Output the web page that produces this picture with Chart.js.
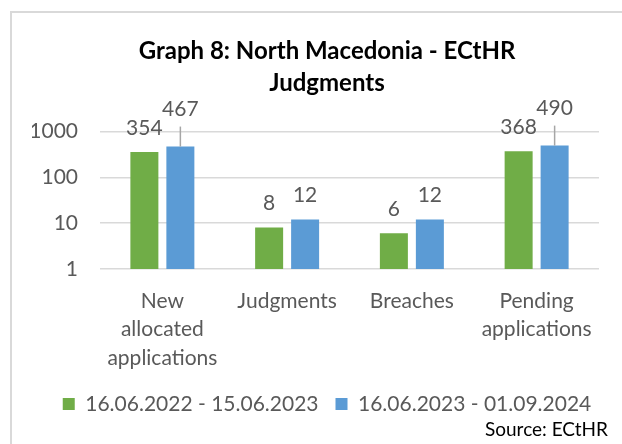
<!DOCTYPE html>
<html>
<head>
<meta charset="utf-8">
<script src="https://cdn.jsdelivr.net/npm/chart.js@4"></script>
<style>
  html, body { margin: 0; padding: 0; background: #fff; overflow: hidden; }
  #frame {
    position: absolute; left: 10px; top: 11px; width: 660px; height: 470px;
    border: 2px solid #d9d9d9; box-sizing: border-box;
  }
  #wrap { position: absolute; left: 0; top: 0; width: 622px; height: 444px; }
</style>
</head>
<body>
<div id="frame"></div>
<div id="wrap"><canvas id="myChart" width="622" height="444"></canvas></div>
<script>
// chart data
const categories = [["New", "allocated", "applications"], "Judgments", "Breaches", ["Pending", "applications"]];
const period1 = "16.06.2022 - 15.06.2023";
const period2 = "16.06.2023 - 01.09.2024";
const values1 = [354, 8, 6, 368];
const values2 = [467, 12, 12, 490];
const yTicks = [1, 10, 100, 1000];

const FONT = "Lato";
const GREY = "#595959";

// value labels above the bars, with a leader line when two labels collide
const barLabels = {
  id: "barLabels",
  afterDatasetsDraw(chart) {
    const ctx = chart.ctx;
    ctx.save();
    ctx.font = "21px " + FONT;
    ctx.fillStyle = GREY;
    ctx.textAlign = "center";
    ctx.textBaseline = "middle";

    const m0 = chart.getDatasetMeta(0);
    const m1 = chart.getDatasetMeta(1);

    m0.data.forEach((bar, i) => {
      const v0 = chart.data.datasets[0].data[i];
      const v1 = chart.data.datasets[1].data[i];
      const b1 = m1.data[i];

      const y0 = bar.y - 24;
      let y1 = b1.y - 24;
      const w0 = ctx.measureText(String(v0)).width;
      const w1 = ctx.measureText(String(v1)).width;

      ctx.fillText(String(v0), bar.x, y0);

      const overlapX = Math.abs(b1.x - bar.x) < (w0 + w1) / 2 + 1;
      const overlapY = Math.abs(y1 - y0) < 18;
      if (overlapX && overlapY) {
        y1 -= 13;
        ctx.strokeStyle = "#a6a6a6";
        ctx.lineWidth = 1.5;
        ctx.beginPath();
        ctx.moveTo(b1.x, y1 + 17);
        ctx.lineTo(b1.x, b1.y);
        ctx.stroke();
      }
      ctx.fillText(String(v1), b1.x, y1);
    });
    ctx.restore();
  },
};

// source note bottom right
const sourceNote = {
  id: "sourceNote",
  afterDraw(chart) {
    const ctx = chart.ctx;
    ctx.save();
    ctx.font = "19px " + FONT;
    ctx.fillStyle = "#000";
    ctx.textAlign = "right";
    ctx.textBaseline = "middle";
    ctx.fillText("Source: ECtHR", chart.width - 14, 430);
    ctx.restore();
  },
};

const ctx = document.getElementById("myChart");

const myChart = new Chart(ctx, {
  type: "bar",
  data: {
    labels: categories,
    datasets: [
      {
        label: period1,
        data: values1,
        backgroundColor: "#70AD47",
        borderWidth: 0,
        barPercentage: 0.778,
        categoryPercentage: 0.577,
      },
      {
        label: period2,
        data: values2,
        backgroundColor: "#5B9BD5",
        borderWidth: 0,
        barPercentage: 0.778,
        categoryPercentage: 0.577,
      },
    ],
  },
  options: {
    responsive: false,
    animation: false,
    layout: {
      padding: { left: 32, right: 0, top: 20, bottom: 19.5 },
    },
    scales: {
      x: {
        grid: { display: false, drawTicks: false },
        border: { display: false },
        ticks: {
          color: GREY,
          font: { family: FONT, size: 21, lineHeight: 1.35 },
          padding: 18,
          maxRotation: 0,
          autoSkip: false,
        },
        afterFit(scale) {
          scale.height = 107.5;
        },
      },
      y: {
        type: "logarithmic",
        min: 1,
        max: 1000,
        grid: { color: "#d9d9d9", lineWidth: 1.5, drawTicks: false },
        border: { display: false },
        ticks: {
          color: GREY,
          font: { family: FONT, size: 21 },
          padding: 22,
          callback: (v) => String(v),
        },
        afterBuildTicks(scale) {
          scale.ticks = yTicks.map((v) => ({ value: v }));
        },
        afterFit(scale) {
          scale.width = 68;
        },
      },
      // empty right-hand axis, only keeps space on the right of the plot
      yRight: {
        position: "right",
        grid: { display: false, drawTicks: false },
        border: { display: false },
        ticks: { display: false },
        afterFit(scale) {
          scale.width = 23;
        },
      },
    },
    plugins: {
      title: {
        display: true,
        text: ["Graph 8: North Macedonia - ECtHR", "Judgments"],
        color: "#000",
        font: { family: FONT, size: 24, weight: "bold", lineHeight: 1.3 },
        padding: { top: 16, bottom: 33 },
      },
      legend: {
        position: "bottom",
        labels: {
          color: GREY,
          font: { family: FONT, size: 21 },
          boxWidth: 12,
          boxHeight: 12,
          padding: 17,
        },
      },
      tooltip: { enabled: false },
    },
  },
  plugins: [barLabels, sourceNote],
});
</script>
</body>
</html>
